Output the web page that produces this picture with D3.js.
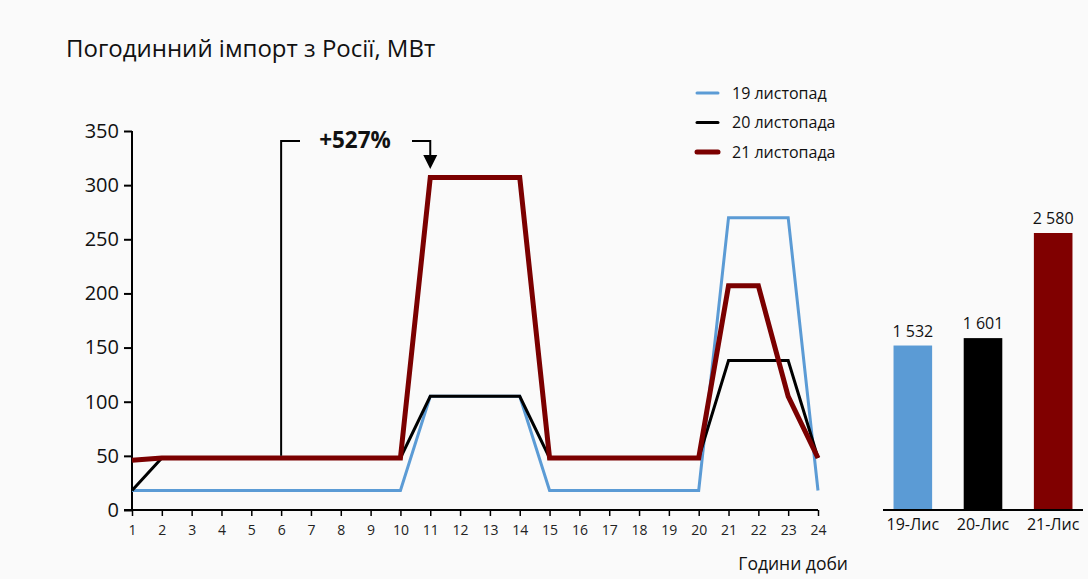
<!DOCTYPE html>
<html>
<head>
<meta charset="utf-8">
<script src="https://cdn.jsdelivr.net/npm/d3@7"></script>
<style>
  body { margin: 0; background: #fafafa; }
  svg { display: block; font-family: "Open Sans", "Noto Sans", sans-serif; }
</style>
</head>
<body>
<div id="chart"></div>
<script>
var hours = d3.range(1, 25);
var nov19 = [18, 18, 18, 18, 18, 18, 18, 18, 18, 18, 105, 105, 105, 105, 18, 18, 18, 18, 18, 18, 270, 270, 270, 18];
var nov20 = [18, 48, 48, 48, 48, 48, 48, 48, 48, 48, 105, 105, 105, 105, 48, 48, 48, 48, 48, 48, 138, 138, 138, 48];
var nov21 = [46, 48, 48, 48, 48, 48, 48, 48, 48, 48, 307, 307, 307, 307, 48, 48, 48, 48, 48, 48, 207, 207, 105, 48];
var seriesNames = ["19 листопад", "20 листопада", "21 листопада"];
var seriesColors = ["#5b9bd5", "#000000", "#7b0000"];
var seriesWidths = [3, 3, 5];
var barLabels = ["19-Лис", "20-Лис", "21-Лис"];
var barTotals = [1532, 1601, 2580];
var yTicks = [0, 50, 100, 150, 200, 250, 300, 350];

const font = "Open Sans, Noto Sans, sans-serif";
const w = 1088;
const h = 579;

const svg = d3.select("#chart")
    .append("svg")
    .attr("width", w)
    .attr("height", h);

svg.append("rect").attr("width", w).attr("height", h).attr("fill", "#fafafa");

// title
svg.append("text")
    .attr("x", 66)
    .attr("y", 57)
    .attr("font-size", 24)
    .attr("fill", "#111")
    .text("Погодинний імпорт з Росії, МВт");

// scales for line chart
const xScale = d3.scaleLinear().domain([1, 24]).range([132, 818]);
const yScale = d3.scaleLinear().domain([0, 350]).range([510, 131]);

// y axis
const yAxis = d3.axisLeft(yScale).tickValues(yTicks).tickSize(8).tickPadding(5);
const gy = svg.append("g")
    .attr("transform", "translate(132,0)")
    .call(yAxis)
    .attr("font-family", font);
gy.select(".domain").attr("stroke", "#000").attr("stroke-width", 2).attr("d", "M0,131V510");
gy.selectAll(".tick line").attr("stroke", "#000").attr("stroke-width", 2);
gy.selectAll(".tick text").attr("font-size", 20).attr("fill", "#111");

// x axis
const xAxis = d3.axisBottom(xScale).tickValues(hours).tickSize(6).tickPadding(9).tickFormat(d3.format("d"));
const gx = svg.append("g")
    .attr("transform", "translate(0,510)")
    .call(xAxis)
    .attr("font-family", font);
gx.select(".domain").attr("stroke", "#000").attr("stroke-width", 2).attr("d", "M124,0H818");
gx.selectAll(".tick line").attr("stroke", "#000").attr("stroke-width", 1.5);
gx.selectAll(".tick text").attr("font-size", 14).attr("fill", "#222");

svg.append("text")
    .attr("x", 848)
    .attr("y", 570)
    .attr("text-anchor", "end")
    .attr("font-size", 17.5)
    .attr("fill", "#111")
    .text("Години доби");

// lines
const line = d3.line()
    .x((d, i) => xScale(hours[i]))
    .y(d => yScale(d));

[nov19, nov20, nov21].forEach(function (s, k) {
    svg.append("path")
        .datum(s)
        .attr("fill", "none")
        .attr("stroke", seriesColors[k])
        .attr("stroke-width", seriesWidths[k])
        .attr("stroke-linejoin", "miter")
        .attr("d", line);
});

// legend
seriesNames.forEach(function (name, k) {
    var ly = 93 + k * 29.5;
    svg.append("line")
        .attr("x1", 697).attr("x2", 718)
        .attr("y1", ly).attr("y2", ly)
        .attr("stroke", seriesColors[k])
        .attr("stroke-width", seriesWidths[k])
        .attr("stroke-linecap", "round");
    svg.append("text")
        .attr("x", 732)
        .attr("y", ly + 5.5)
        .attr("font-size", 16)
        .attr("fill", "#111")
        .text(name);
});

// annotation +527%
var ax = xScale(6), bx = xScale(11);
svg.append("path")
    .attr("d", "M" + ax + "," + yScale(50) + "V141H300")
    .attr("fill", "none").attr("stroke", "#000").attr("stroke-width", 2);
svg.append("path")
    .attr("d", "M412,141H" + bx + "V156")
    .attr("fill", "none").attr("stroke", "#000").attr("stroke-width", 2);
svg.append("path")
    .attr("d", "M" + (bx - 7) + ",155L" + (bx + 7) + ",155L" + bx + ",169Z")
    .attr("fill", "#000");
svg.append("text")
    .attr("x", 355)
    .attr("y", 148)
    .attr("text-anchor", "middle")
    .attr("font-size", 22.5)
    .attr("font-weight", "bold")
    .attr("fill", "#111")
    .text("+527%");

// bar chart of daily totals
const xBar = d3.scaleBand().domain(barLabels).range([883, 1083]).paddingInner(0.45).paddingOuter(0.15);
const yBar = d3.scaleLinear().domain([0, 2580]).range([510, 233]);

svg.selectAll(".bar")
    .data(barTotals)
    .enter()
    .append("rect")
    .attr("class", "bar")
    .attr("x", (d, i) => xBar(barLabels[i]))
    .attr("y", d => yBar(d))
    .attr("width", xBar.bandwidth())
    .attr("height", d => 510 - yBar(d))
    .attr("fill", (d, i) => ["#5b9bd5", "#000000", "#800000"][i]);

svg.selectAll(".barval")
    .data(barTotals)
    .enter()
    .append("text")
    .attr("x", (d, i) => xBar(barLabels[i]) + xBar.bandwidth() / 2)
    .attr("y", d => yBar(d) - 9)
    .attr("text-anchor", "middle")
    .attr("font-size", 16)
    .attr("fill", "#111")
    .text(d => d3.format(",")(d).replace(",", " "));

const gb = svg.append("g")
    .attr("transform", "translate(0,510)")
    .call(d3.axisBottom(xBar).tickSize(0).tickPadding(9))
    .attr("font-family", font);
gb.select(".domain").attr("stroke", "#000").attr("stroke-width", 2).attr("d", "M883,0H1083");
gb.selectAll(".tick text").attr("font-size", 16).attr("fill", "#111");
</script>
</body>
</html>
